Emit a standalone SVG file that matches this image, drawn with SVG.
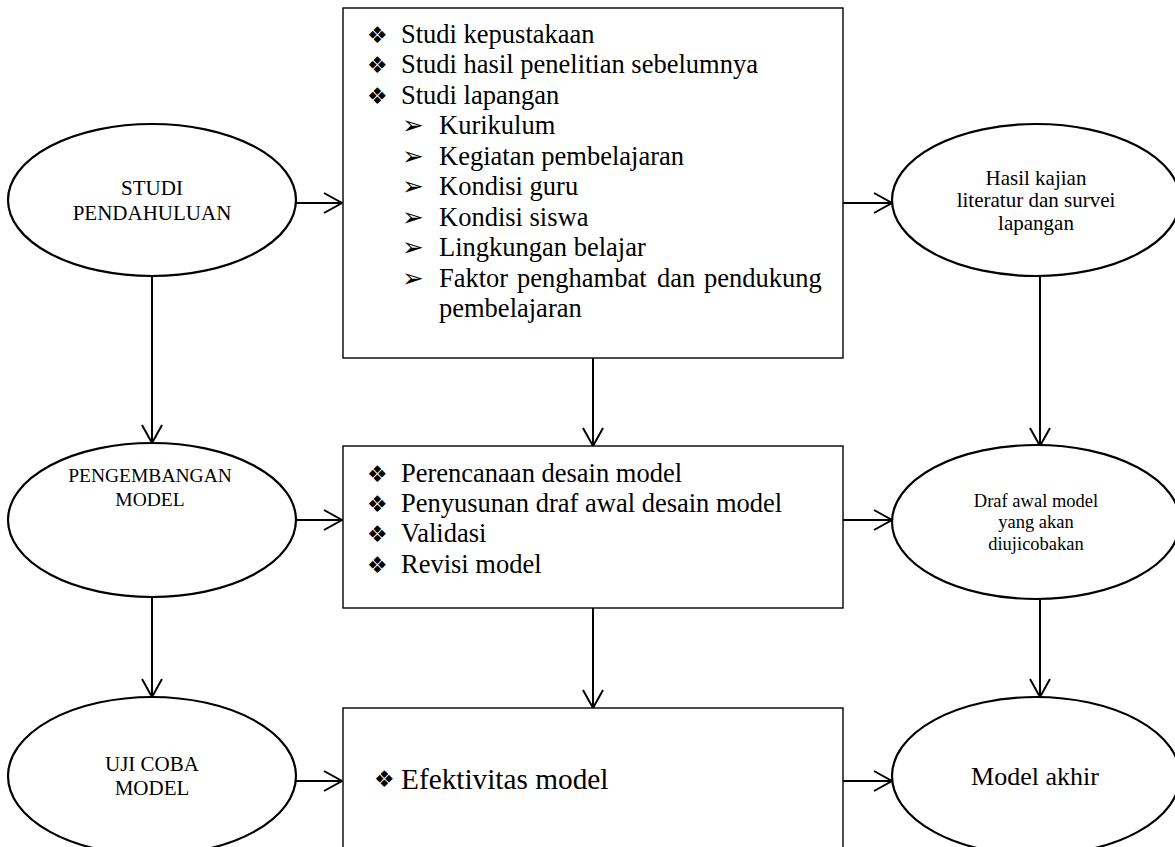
<svg xmlns="http://www.w3.org/2000/svg" width="1175" height="847" viewBox="0 0 1175 847">
<style>
.bg{fill:#fff}
.box{fill:#fff;stroke:#000;stroke-width:1.4}
.ell{fill:#fff;stroke:#000;stroke-width:2.2}
.con{fill:none;stroke:#000;stroke-width:2}
.t{font-family:'Liberation Serif','Tinos','DejaVu Serif',serif;fill:#000}
.it{font-size:26.5px}
.b{font-family:'DejaVu Sans',sans-serif;font-size:23px;fill:#000}
.a{font-family:'DejaVu Sans',sans-serif;font-size:26px;fill:#000}
.c{text-anchor:middle}
</style>
<defs>
<marker id="ah" markerWidth="22" markerHeight="24" refX="19" refY="11" orient="auto" markerUnits="userSpaceOnUse">
<path d="M1,1 L19,11 L1,21" fill="none" stroke="#000" stroke-width="2"/>
</marker>
</defs>
<rect class="bg" x="0" y="0" width="1175" height="847"/>

<g id="connectors">
<line class="con" x1="296" y1="203" x2="342" y2="203" marker-end="url(#ah)"/>
<line class="con" x1="843" y1="203" x2="892" y2="203" marker-end="url(#ah)"/>
<line class="con" x1="296" y1="520" x2="342" y2="520" marker-end="url(#ah)"/>
<line class="con" x1="843" y1="520" x2="892" y2="520" marker-end="url(#ah)"/>
<line class="con" x1="295" y1="781" x2="342" y2="781" marker-end="url(#ah)"/>
<line class="con" x1="843" y1="781" x2="892" y2="781" marker-end="url(#ah)"/>
<line class="con" x1="152" y1="276" x2="152" y2="443" marker-end="url(#ah)"/>
<line class="con" x1="152" y1="597" x2="152" y2="697" marker-end="url(#ah)"/>
<line class="con" x1="593" y1="358" x2="593" y2="446" marker-end="url(#ah)"/>
<line class="con" x1="593" y1="608" x2="593" y2="708" marker-end="url(#ah)"/>
<line class="con" x1="1040" y1="276" x2="1040" y2="446" marker-end="url(#ah)"/>
<line class="con" x1="1040" y1="599" x2="1040" y2="697" marker-end="url(#ah)"/>
</g>

<g id="studi-pendahuluan">
<ellipse class="ell" cx="152" cy="200" rx="144" ry="76"/>
<text class="t c" font-size="21" x="152" y="195">STUDI</text>
<text class="t c" font-size="21" x="152" y="220">PENDAHULUAN</text>
</g>

<g id="box-studi">
<rect class="box" x="343" y="8" width="500" height="350"/>
<text class="b" x="367" y="42.5">❖</text>
<text class="t it" x="401" y="42.5">Studi kepustakaan</text>
<text class="b" x="367" y="73">❖</text>
<text class="t it" x="401" y="73">Studi hasil penelitian sebelumnya</text>
<text class="b" x="367" y="103.5">❖</text>
<text class="t it" x="401" y="103.5">Studi lapangan</text>
<text class="a" x="402" y="134">➢</text>
<text class="t it" x="439" y="134">Kurikulum</text>
<text class="a" x="402" y="164.5">➢</text>
<text class="t it" x="439" y="164.5">Kegiatan pembelajaran</text>
<text class="a" x="402" y="195">➢</text>
<text class="t it" x="439" y="195">Kondisi guru</text>
<text class="a" x="402" y="225.5">➢</text>
<text class="t it" x="439" y="225.5">Kondisi siswa</text>
<text class="a" x="402" y="256">➢</text>
<text class="t it" x="439" y="256">Lingkungan belajar</text>
<text class="a" x="402" y="286.5">➢</text>
<text class="t it" y="286.5"><tspan x="439">Faktor</tspan><tspan x="517">penghambat</tspan><tspan x="657">dan</tspan><tspan x="704">pendukung</tspan></text>
<text class="t it" x="439" y="317">pembelajaran</text>
</g>

<g id="hasil-kajian">
<ellipse class="ell" cx="1036" cy="200" rx="144" ry="76"/>
<text class="t c" font-size="21" x="1036" y="185">Hasil kajian</text>
<text class="t c" font-size="21" x="1036" y="207">literatur dan survei</text>
<text class="t c" font-size="21" x="1036" y="230">lapangan</text>
</g>

<g id="pengembangan-model">
<ellipse class="ell" cx="152" cy="520" rx="144" ry="77"/>
<text class="t c" font-size="19.5" x="150" y="482">PENGEMBANGAN</text>
<text class="t c" font-size="19.5" x="150" y="506">MODEL</text>
</g>

<g id="box-pengembangan">
<rect class="box" x="343" y="446" width="500" height="162"/>
<text class="b" x="367" y="481.5">❖</text>
<text class="t it" x="401" y="482">Perencanaan desain model</text>
<text class="b" x="367" y="511.5">❖</text>
<text class="t it" x="401" y="512">Penyusunan draf awal desain model</text>
<text class="b" x="367" y="541.5">❖</text>
<text class="t it" x="401" y="542">Validasi</text>
<text class="b" x="367" y="572.5">❖</text>
<text class="t it" x="401" y="573">Revisi model</text>
</g>

<g id="draf-awal">
<ellipse class="ell" cx="1036" cy="522" rx="144" ry="77"/>
<text class="t c" font-size="18.5" x="1036" y="507">Draf awal model</text>
<text class="t c" font-size="18.5" x="1036" y="528">yang akan</text>
<text class="t c" font-size="18.5" x="1036" y="550">diujicobakan</text>
</g>

<g id="uji-coba-model">
<ellipse class="ell" cx="152" cy="776" rx="144" ry="79"/>
<text class="t c" font-size="21" x="152" y="771">UJI COBA</text>
<text class="t c" font-size="21" x="152" y="795">MODEL</text>
</g>

<g id="box-uji-coba">
<rect class="box" x="343" y="708" width="500" height="160"/>
<text class="b" font-size="19" x="374" y="787">❖</text>
<text class="t" font-size="29.3" x="401" y="789">Efektivitas model</text>
</g>

<g id="model-akhir">
<ellipse class="ell" cx="1036" cy="776" rx="144" ry="79"/>
<text class="t c" font-size="26" x="1035" y="785">Model akhir</text>
</g>
</svg>
